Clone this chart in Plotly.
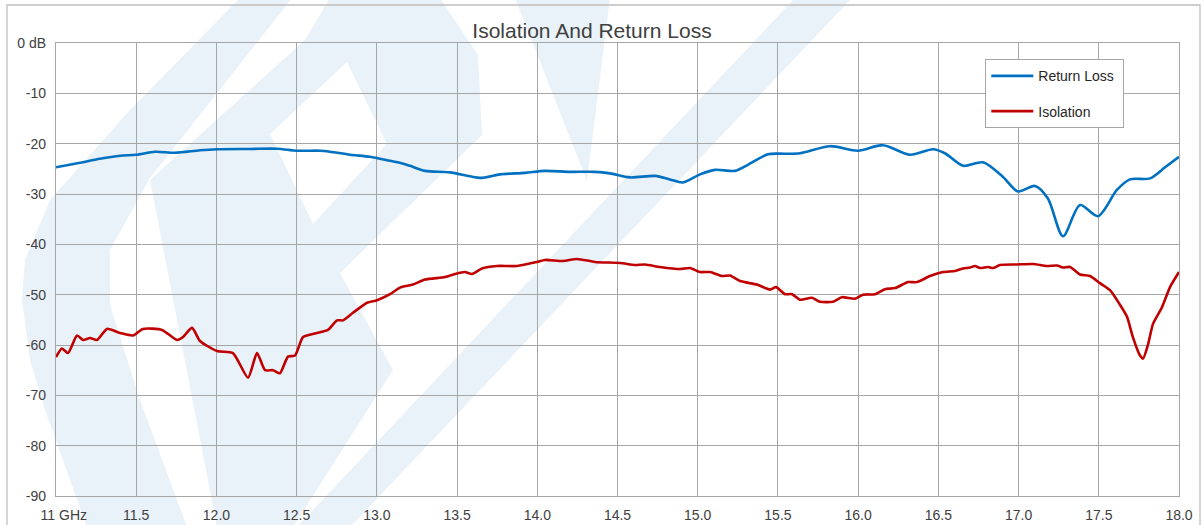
import plotly.graph_objects as go

# Return Loss (blue)
rl_freq = [11.00, 11.15, 11.274, 11.40, 11.50, 11.617, 11.742, 11.898, 12.004, 12.209, 12.378,
           12.502, 12.646, 12.708, 12.833, 12.957, 13.082, 13.144, 13.206, 13.30, 13.456, 13.643,
           13.768, 13.923, 14.048, 14.204, 14.36, 14.453, 14.578, 14.734, 14.827, 14.908, 15.014,
           15.108, 15.232, 15.313, 15.438, 15.544, 15.638, 15.825, 15.999, 16.155, 16.323, 16.467,
           16.541, 16.654, 16.778, 16.903, 16.996, 17.102, 17.183, 17.277, 17.383, 17.495, 17.613,
           17.694, 17.819, 17.913, 18.0]
rl_db = [-24.7, -23.8, -23.0, -22.4, -22.2, -21.6, -21.8, -21.3, -21.1, -21.05, -21.0,
         -21.4, -21.4, -21.6, -22.2, -22.6, -23.4, -23.8, -24.4, -25.4, -25.7, -26.8,
         -26.1, -25.8, -25.4, -25.6, -25.6, -25.9, -26.7, -26.4, -27.1, -27.7, -26.1,
         -25.2, -25.4, -24.2, -22.1, -22.0, -21.9, -20.5, -21.4, -20.3, -22.2, -21.1,
         -21.9, -24.4, -23.7, -26.6, -29.5, -28.4, -30.9, -38.4, -32.2, -34.4, -29.2,
         -27.1, -26.9, -24.7, -22.6]

# Isolation (red)
iso_freq = [11.00, 11.037, 11.075, 11.131, 11.168, 11.212, 11.256, 11.318, 11.399, 11.48, 11.542,
            11.661, 11.754, 11.792, 11.848, 11.898, 12.004, 12.103, 12.197, 12.253, 12.303, 12.353,
            12.396, 12.446, 12.49, 12.54, 12.627, 12.695, 12.752, 12.789, 12.851, 12.939, 13.001,
            13.082, 13.144, 13.225, 13.30, 13.425, 13.487, 13.549, 13.593, 13.655, 13.749, 13.874,
            13.998, 14.048, 14.16, 14.248, 14.36, 14.516, 14.609, 14.671, 14.765, 14.89, 14.952,
            15.014, 15.077, 15.151, 15.201, 15.264, 15.37, 15.451, 15.488, 15.544, 15.588, 15.638,
            15.712, 15.762, 15.843, 15.899, 15.98, 16.03, 16.105, 16.167, 16.23, 16.311, 16.367,
            16.448, 16.529, 16.604, 16.654, 16.697, 16.728, 16.76, 16.809, 16.841, 16.884, 16.99,
            17.09, 17.177, 17.239, 17.277, 17.321, 17.383, 17.445, 17.507, 17.57, 17.632, 17.676,
            17.713, 17.757, 17.776, 17.807, 17.838, 17.894, 17.944, 18.0]
iso_db = [-62.4, -60.7, -61.6, -58.1, -59.0, -58.6, -59.0, -56.8, -57.6, -58.1, -56.8,
          -57.0, -59.0, -58.4, -56.6, -59.2, -61.2, -61.6, -66.5, -61.6, -65.0, -65.0,
          -65.6, -62.3, -62.1, -58.4, -57.6, -57.0, -55.1, -55.1, -53.6, -51.6, -51.1,
          -49.9, -48.6, -48.0, -47.0, -46.5, -45.9, -45.5, -45.9, -44.8, -44.3, -44.3,
          -43.5, -43.1, -43.3, -42.9, -43.5, -43.7, -44.1, -44.0, -44.5, -44.9, -44.7,
          -45.5, -45.5, -46.3, -46.2, -47.3, -48.0, -49.0, -48.5, -49.9, -49.9, -51.0,
          -50.6, -51.4, -51.4, -50.5, -50.8, -50.0, -49.9, -48.9, -48.7, -47.5, -47.5,
          -46.3, -45.5, -45.3, -44.8, -44.6, -44.3, -44.7, -44.5, -44.7, -44.1, -44.0,
          -43.9, -44.3, -44.2, -44.6, -44.5, -46.0, -46.3, -47.7, -49.1, -52.0, -54.4,
          -58.5, -62.1, -62.7, -59.9, -55.8, -52.5, -48.5, -45.5]

x_tickvals = [11.0, 11.5, 12.0, 12.5, 13.0, 13.5, 14.0, 14.5, 15.0, 15.5, 16.0, 16.5, 17.0, 17.5, 18.0]
x_ticktext = ["\u00a0\u00a0\u00a0\u00a011 GHz", "11.5", "12.0", "12.5", "13.0", "13.5", "14.0", "14.5",
              "15.0", "15.5", "16.0", "16.5", "17.0", "17.5", "18.0"]
y_tickvals = [0, -10, -20, -30, -40, -50, -60, -70, -80, -90]
y_ticktext = ["0 dB", "-10", "-20", "-30", "-40", "-50", "-60", "-70", "-80", "-90"]

FONT = "Liberation Sans"
TXT = "#404040"
GRID = "#a6a6a6"
WM = "#e9f1f9"
PAD = "\u00a0"

W, H = 1203, 525
L, R, T, B = 56, 24, 43, 29
pw, ph = W - L - R, H - T - B


def px(x):
    return (x - L) / pw


def py(y):
    return (H - B - y) / ph


def poly(points, color):
    d = "M " + " L ".join(f"{px(a):.5f},{py(b):.5f}" for a, b in points) + " Z"
    return dict(type="path", xref="paper", yref="paper", path=d,
                fillcolor=color, line=dict(width=0), layer="below")


# faint background logo (decorative watermark)
wm_left = [(240, -2), (292, -2), (150, 178), (110, 250), (110, 305), (140, 400), (187, 527),
           (87, 527), (45, 410), (30, 360), (22, 300), (25, 260), (50, 200), (130, 110)]
wm_body = [(150, 180), (305, 40), (330, -2), (440, -2), (478, 55), (482, 135), (340, 273),
           (393, 370), (293, 527), (217, 527)]
wm_hole = [(347, 62), (387, 144), (313, 224), (270, 134)]
wm_slash = [(795, -2), (852, -2), (350, 527), (297, 527)]
wm_v = [(515, -2), (610, -2), (587, 181)]

shapes = [poly(wm_left, WM), poly(wm_body, WM), poly(wm_hole, "white"),
          poly(wm_slash, WM), poly(wm_v, WM),
          dict(type="rect", xref="paper", yref="paper",
               x0=px(7), x1=px(1200), y0=py(530), y1=py(5),
               line=dict(color="#bfbfbf", width=1.3), layer="below")]

fig = go.Figure()
fig.add_trace(go.Scatter(x=rl_freq, y=rl_db, name="Return Loss" + PAD, mode="lines",
                         line=dict(color="#0070C0", width=2.6, shape="spline", smoothing=0.8),
                         legendgroup="a"))
fig.add_trace(go.Scatter(x=iso_freq, y=iso_db, name="Isolation", mode="lines",
                         line=dict(color="#C00000", width=2.6, shape="spline", smoothing=0.6),
                         legendgroup="b"))

fig.update_layout(
    width=W, height=H,
    margin=dict(l=L, r=R, t=T, b=B, autoexpand=False),
    paper_bgcolor="white", plot_bgcolor="rgba(0,0,0,0)",
    font=dict(family=FONT, color=TXT, size=14),
    title=dict(text="Isolation And Return Loss", x=592 / W, xanchor="center",
               y=1 - 31 / H, yanchor="middle", font=dict(size=21, color="#404040", family=FONT)),
    showlegend=True,
    legend=dict(x=px(985), y=py(59), xanchor="left", yanchor="top",
                bgcolor="white", bordercolor=GRID, borderwidth=1.3,
                font=dict(size=14, color="#262626", family=FONT),
                tracegroupgap=14, traceorder="grouped", itemwidth=42),
    xaxis=dict(range=[11, 18], tickvals=x_tickvals, ticktext=x_ticktext, automargin=False,
               showgrid=True, gridcolor=GRID, gridwidth=1.3,
               showline=True, linecolor=GRID, linewidth=1.3, mirror=True,
               ticks="outside", ticklen=6, tickcolor="rgba(0,0,0,0)", zeroline=False,
               tickfont=dict(size=14, color=TXT)),
    yaxis=dict(range=[-90, 0], tickvals=y_tickvals, ticktext=y_ticktext, automargin=False,
               showgrid=True, gridcolor=GRID, gridwidth=1.3,
               showline=True, linecolor=GRID, linewidth=1.3, mirror=True,
               ticks="outside", ticklen=6, tickcolor="rgba(0,0,0,0)", zeroline=False,
               tickfont=dict(size=14, color=TXT)),
    shapes=shapes,
)

fig.write_html("out.html", config={"displayModeBar": False},
               post_script="document.body.style.margin='0';document.body.style.overflow='hidden';")
